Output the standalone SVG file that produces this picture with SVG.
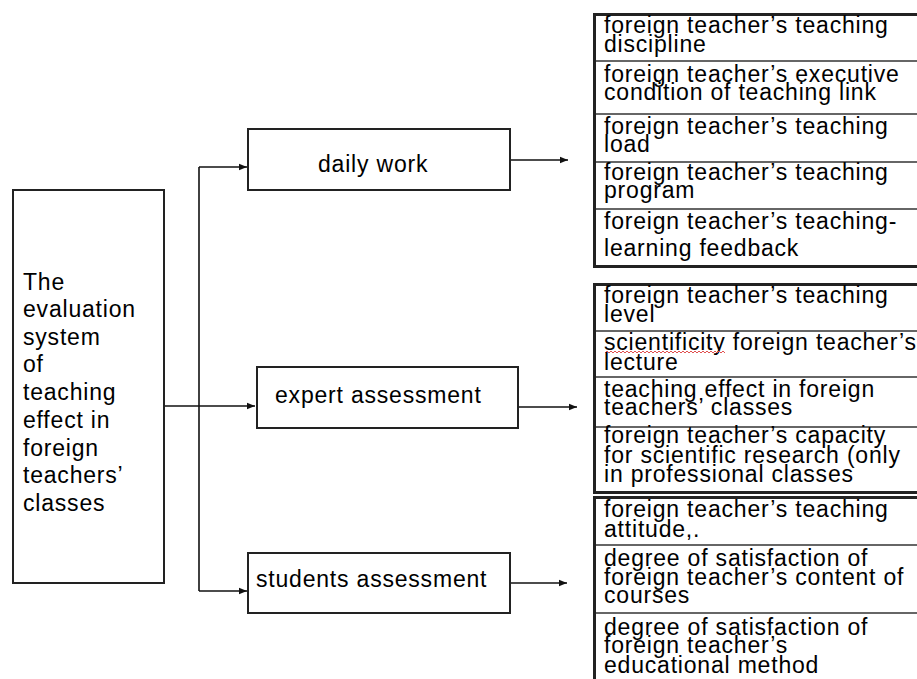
<svg xmlns="http://www.w3.org/2000/svg" width="917" height="679" viewBox="0 0 917 679">
<style>
text{font-family:"Liberation Sans",Arial,sans-serif;font-size:23px;fill:#000;letter-spacing:0.8px}
.box{fill:#fff;stroke:#222;stroke-width:2}
.tbl{fill:#fff;stroke:#222;stroke-width:3}
.div{stroke:#333;stroke-width:1.6}
.con{fill:none;stroke:#111;stroke-width:1.6}
</style>
<defs>
<marker id="ah" viewBox="0 0 8 8" refX="8" refY="4" markerWidth="8" markerHeight="8" markerUnits="userSpaceOnUse" orient="auto">
<path d="M0,0.8 L8,4 L0,7.2 z" fill="#111"/>
</marker>
</defs>
<rect width="917" height="679" fill="#fff"/>

<g id="connectors">
<path class="con" d="M164,406 H255" marker-end="url(#ah)"/>
<path class="con" d="M199,167 V591"/>
<path class="con" d="M199,167 H247" marker-end="url(#ah)"/>
<path class="con" d="M199,591 H247" marker-end="url(#ah)"/>
<path class="con" d="M510,160 H568" marker-end="url(#ah)"/>
<path class="con" d="M518,407 H577" marker-end="url(#ah)"/>
<path class="con" d="M510,583 H567" marker-end="url(#ah)"/>
</g>

<g id="root">
<rect class="box" x="13" y="190" width="151" height="393"/>
<text x="23" y="290">The</text>
<text x="23" y="317">evaluation</text>
<text x="23" y="345">system</text>
<text x="23" y="372">of</text>
<text x="23" y="400">teaching</text>
<text x="23" y="428">effect in</text>
<text x="23" y="456">foreign</text>
<text x="23" y="483">teachers’</text>
<text x="23" y="511">classes</text>
</g>

<g id="daily-work">
<rect class="box" x="248" y="129" width="262" height="61"/>
<text x="318" y="172">daily work</text>
</g>

<g id="expert-assessment">
<rect class="box" x="257" y="367" width="261" height="61"/>
<text x="275" y="403">expert assessment</text>
</g>

<g id="students-assessment">
<rect class="box" x="248" y="553" width="262" height="60"/>
<text x="256" y="587">students assessment</text>
</g>

<g id="daily-work-items">
<rect class="tbl" x="594.5" y="14.5" width="340" height="252"/>
<line class="div" x1="596" y1="61" x2="917" y2="61"/>
<line class="div" x1="596" y1="114" x2="917" y2="114"/>
<line class="div" x1="596" y1="162" x2="917" y2="162"/>
<line class="div" x1="596" y1="209" x2="917" y2="209"/>
<text x="604" y="33">foreign teacher’s teaching</text>
<text x="604" y="52">discipline</text>
<text x="604" y="82">foreign teacher’s executive</text>
<text x="604" y="100">condition of teaching link</text>
<text x="604" y="134">foreign teacher’s teaching</text>
<text x="604" y="152">load</text>
<text x="604" y="180">foreign teacher’s teaching</text>
<text x="604" y="198">program</text>
<text x="604" y="229">foreign teacher’s teaching-</text>
<text x="604" y="256">learning feedback</text>
</g>

<g id="expert-items">
<rect class="tbl" x="594.5" y="284.5" width="340" height="208"/>
<line class="div" x1="596" y1="331" x2="917" y2="331"/>
<line class="div" x1="596" y1="377" x2="917" y2="377"/>
<line class="div" x1="596" y1="427" x2="917" y2="427"/>
<text x="604" y="303">foreign teacher’s  teaching</text>
<text x="604" y="322">level</text>
<text x="604" y="350">scientificity foreign teacher’s</text>
<path d="M605,353 l2,-2 l2,2 l2,-2 l2,2 l2,-2 l2,2 l2,-2 l2,2 l2,-2 l2,2 l2,-2 l2,2 l2,-2 l2,2 l2,-2 l2,2 l2,-2 l2,2 l2,-2 l2,2 l2,-2 l2,2 l2,-2 l2,2 l2,-2 l2,2 l2,-2 l2,2 l2,-2 l2,2 l2,-2 l2,2 l2,-2 l2,2 l2,-2 l2,2 l2,-2 l2,2 l2,-2 l2,2 l2,-2 l2,2 l2,-2 l2,2 l2,-2 l2,2 l2,-2 l2,2 l2,-2 l2,2 l2,-2 l2,2 l2,-2 l2,2 l2,-2 l2,2 l2,-2 l2,2 l2,-2 l2,2" fill="none" stroke="#e05050" stroke-width="1"/>
<text x="604" y="370">lecture</text>
<text x="604" y="397">teaching effect in foreign</text>
<text x="604" y="415">teachers’ classes</text>
<text x="604" y="443">foreign teacher’s capacity</text>
<text x="604" y="463">for scientific research (only</text>
<text x="604" y="482">in professional classes</text>
</g>

<g id="students-items">
<rect class="tbl" x="594.5" y="497.5" width="340" height="200"/>
<line class="div" x1="596" y1="545" x2="917" y2="545"/>
<line class="div" x1="596" y1="613" x2="917" y2="613"/>
<text x="604" y="517">foreign teacher’s teaching</text>
<text x="604" y="537">attitude,.</text>
<text x="604" y="566">degree of satisfaction of</text>
<text x="604" y="585">foreign teacher’s content of</text>
<text x="604" y="603">courses</text>
<text x="604" y="635">degree of satisfaction of</text>
<text x="604" y="653">foreign teacher’s</text>
<text x="604" y="673">educational method</text>
</g>
</svg>
